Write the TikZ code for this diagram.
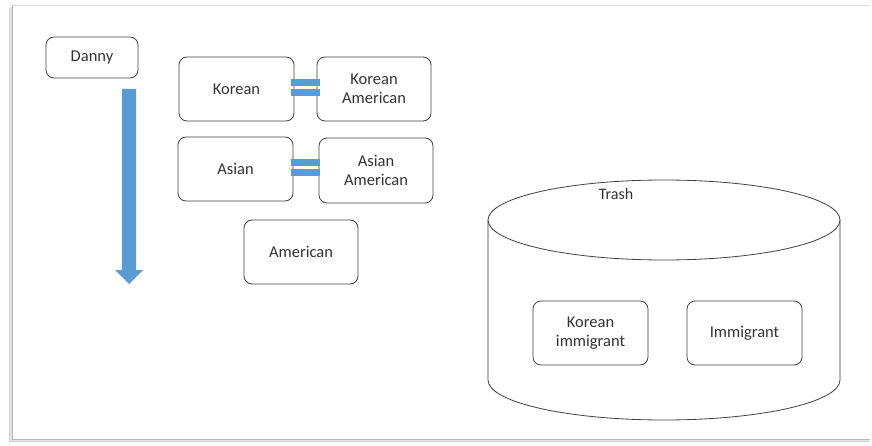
\documentclass[tikz,border=0pt]{standalone}
\usepackage{fontspec}
\setmainfont{Carlito}
\usetikzlibrary{arrows.meta}
\definecolor{fillblue}{HTML}{5B9BD5}
\definecolor{edgegray}{HTML}{404040}
\definecolor{textgray}{HTML}{333333}
\begin{document}
\begin{tikzpicture}[x=1pt,y=-1pt,
  box/.style={draw=edgegray,line width=0.8pt,rounded corners=8pt,fill=white,
    text=textgray,font=\fontsize{16.5}{19.5}\selectfont,align=center,inner sep=0pt},
  bar/.style={fill=fillblue,draw=none},
  rim/.style={draw=edgegray,line width=0.8pt}]
  \useasboundingbox (0,0) rectangle (872,446);
  % page sheet with soft shadow on the left and bottom
  \fill[gray!35] (9,8) rectangle (869,442);
  \fill[gray!20] (10,7) rectangle (870,441);
  \fill[white] (12,5) rectangle (870,439);
  \draw[gray!25,line width=0.5pt] (12,5) -- (870,5);
  \draw[gray!60,line width=1pt] (12,5) -- (12,439);
  \draw[gray!55,line width=1pt] (12,439) -- (870,439);

  % identity label and downward arrow
  \node[box,minimum width=92pt,minimum height=41pt] (danny) at (92,57.5) {Danny};
  \coordinate (arrtip) at (129,284);
  \fill[fillblue] (122,89) -- (136,89) -- (136,270) -- (143,270) -- (arrtip)
    -- (115,270) -- (122,270) -- cycle;

  % identity pairs
  \node[box,minimum width=115pt,minimum height=64pt] (korean) at (236.5,89) {Korean};
  \node[box,minimum width=114pt,minimum height=64pt] (koram) at (374,89) {Korean\\American};
  \node[box,minimum width=115pt,minimum height=64pt] (asian) at (235.5,169) {Asian};
  \node[box,minimum width=114pt,minimum height=65pt] (asam) at (376,170.5) {Asian\\American};
  \node[box,minimum width=114pt,minimum height=64pt] (american) at (301,252) {American};

  % equals signs between the pairs
  \fill[bar] (291,79) rectangle (320,86);
  \fill[bar] (291,89) rectangle (320,96);
  \fill[bar] (291,159) rectangle (320,166);
  \fill[bar] (291,169) rectangle (320,176);

  % trash can: body, bottom rim and top opening
  \draw[rim,fill=white] (488,220) -- (488,380)
    arc[start angle=180,end angle=0,x radius=176,y radius=40]
    -- (840,220);
  \draw[rim,fill=white] (664,220) ellipse[x radius=176,y radius=40];
  \node[text=textgray,font=\fontsize{16}{19}\selectfont] (trash) at (616,194) {Trash};

  \node[box,minimum width=115pt,minimum height=64pt] (korimm) at (590.5,333) {Korean\\immigrant};
  \node[box,minimum width=115pt,minimum height=64pt] (immig) at (744.5,333) {Immigrant};
\end{tikzpicture}
\end{document}
